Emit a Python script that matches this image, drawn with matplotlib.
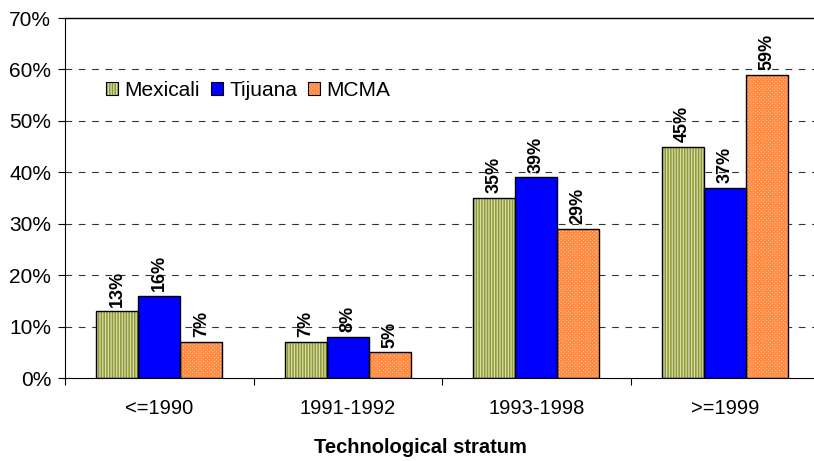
import numpy as np
import matplotlib
matplotlib.use('Agg')
import matplotlib.pyplot as plt
from matplotlib.patches import Patch

plt.rcParams['font.family'] = ['Liberation Sans', 'DejaVu Sans']
plt.rcParams['hatch.linewidth'] = 1.1

# data
categories = ['<=1990', '1991-1992', '1993-1998', '>=1999']
series = ['Mexicali', 'Tijuana', 'MCMA']
mexicali = [13, 7, 35, 45]
tijuana = [16, 8, 39, 37]
mcma = [7, 5, 29, 59]

values = [mexicali, tijuana, mcma]
faces = ['#dadcb4', '#0000ff', '#ffd2b0']
hatch_cols = ['#8c9a2e', '#0000ff', '#ff8a40']
hatches = ['||||||', '', 'xxxxxxxxx']

fig = plt.figure(figsize=(8.14, 4.61), dpi=100)
ax = fig.add_axes([65 / 814, 83 / 461, 754 / 814, 360 / 461])

x = np.arange(len(categories))
w = 0.223
handles = []
for i, (vals, fc, hc, h) in enumerate(zip(values, faces, hatch_cols, hatches)):
    pos = x + (i - 1) * w
    ax.bar(pos, vals, w, color=fc, edgecolor=hc, hatch=h, linewidth=0, zorder=2)
    ax.bar(pos, vals, w, fill=False, edgecolor='black', linewidth=1.0, zorder=3)
    for px, v in zip(pos, vals):
        ax.text(px, v + 0.9, f'{v}%', rotation=90, ha='center', va='bottom',
                fontsize=13, fontweight='bold', zorder=4)
    handles.append((Patch(facecolor=fc, edgecolor=hc, hatch=h, linewidth=0),
                    Patch(fill=False, edgecolor='black', linewidth=0.8)))

ax.set_xlim(-0.5, 3.5)
ax.set_ylim(0, 70)
ax.set_yticks(np.arange(0, 71, 10))
ax.set_yticklabels([f'{t}%' for t in range(0, 71, 10)], fontsize=15)
ax.set_xticks([-0.5, 0.5, 1.5, 2.5, 3.5])
ax.set_xticklabels([])
ax.set_xticks(x, minor=True)
ax.set_xticklabels(categories, minor=True, fontsize=14.5)
ax.tick_params(axis='x', which='minor', length=0, pad=15)
ax.tick_params(axis='x', which='major', length=5, direction='out')
ax.tick_params(axis='y', length=5, direction='out', pad=5)

for yv in range(10, 70, 10):
    ax.axhline(yv, color='#333333', linewidth=0.8, linestyle=(0, (6, 6)), zorder=1)

ax.spines['right'].set_visible(False)
ax.spines['top'].set_linewidth(1.0)

ax.legend(handles, series, loc='center left', bbox_to_anchor=(0.035, 0.8),
          ncol=3, frameon=False, fontsize=15, handlelength=0.6, handleheight=0.6,
          handletextpad=0.3, columnspacing=0.5, borderpad=0.2)

fig.text(420 / 814, 14 / 461, 'Technological stratum', ha='center', va='center',
         fontsize=14.5, fontweight='bold')

fig.savefig('out.png', dpi=100)
